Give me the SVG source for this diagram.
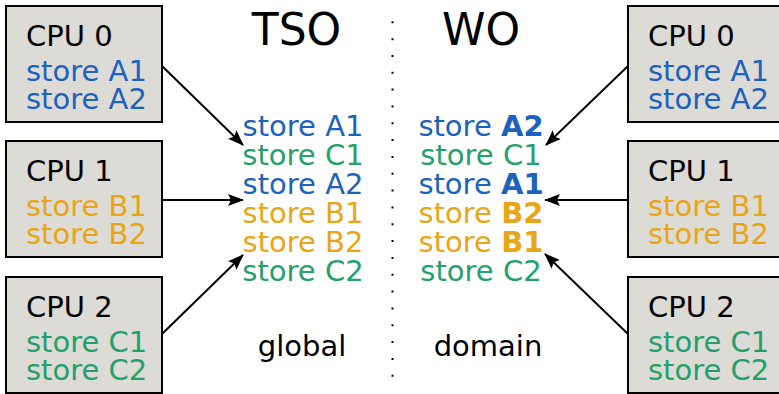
<svg xmlns="http://www.w3.org/2000/svg" width="779" height="394" viewBox="0 0 779 394">
<style>
text{font-family:"DejaVu Sans","Verdana",sans-serif;font-size:29px}
.box{fill:#dcdbd6;stroke:#000;stroke-width:2}
.k{fill:#000}
.b{fill:#1c62be}
.g{fill:#24a06c}
.o{fill:#e8a616}
.bold{font-weight:bold}
.m{text-anchor:middle}
.t{font-size:44px}
.conn line{stroke:#000;stroke-width:2}
</style>
<defs>
<marker id="ah" viewBox="0 0 16 12" refX="15" refY="6" markerWidth="16" markerHeight="12" markerUnits="userSpaceOnUse" orient="auto">
<path d="M0,0 L16,6 L0,12 L3,6 Z" fill="#000"/>
</marker>
</defs>
<rect width="779" height="394" fill="#fff"/>
<line x1="392.5" y1="21.3" x2="392.5" y2="380" stroke="#000" stroke-width="2" stroke-dasharray="2 14.83"/>
<text class="t m k" x="296.5" y="45">TSO</text>
<text class="t m k" x="481" y="45">WO</text>
<g id="cpu0L"><rect class="box" x="6" y="6" width="156" height="116"/>
<text class="k" x="26" y="46">CPU 0</text><text class="b" x="26" y="81">store A1</text><text class="b" x="26" y="109">store A2</text></g>
<g id="cpu1L"><rect class="box" x="6" y="141" width="156" height="116"/>
<text class="k" x="26" y="181">CPU 1</text><text class="o" x="26" y="216">store B1</text><text class="o" x="26" y="244">store B2</text></g>
<g id="cpu2L"><rect class="box" x="6" y="277" width="156" height="116"/>
<text class="k" x="26" y="317">CPU 2</text><text class="g" x="26" y="352">store C1</text><text class="g" x="26" y="380">store C2</text></g>
<g id="cpu0R"><rect class="box" x="628" y="6" width="156" height="116"/>
<text class="k" x="648" y="46">CPU 0</text><text class="b" x="648" y="81">store A1</text><text class="b" x="648" y="109">store A2</text></g>
<g id="cpu1R"><rect class="box" x="628" y="141" width="156" height="116"/>
<text class="k" x="648" y="181">CPU 1</text><text class="o" x="648" y="216">store B1</text><text class="o" x="648" y="244">store B2</text></g>
<g id="cpu2R"><rect class="box" x="628" y="277" width="156" height="116"/>
<text class="k" x="648" y="317">CPU 2</text><text class="g" x="648" y="352">store C1</text><text class="g" x="648" y="380">store C2</text></g>
<g id="tso">
<text class="b m" x="303" y="136">store A1</text>
<text class="g m" x="303" y="165">store C1</text>
<text class="b m" x="303" y="194">store A2</text>
<text class="o m" x="303" y="223">store B1</text>
<text class="o m" x="303" y="252">store B2</text>
<text class="g m" x="303" y="281">store C2</text>
<text class="k m" x="302" y="356">global</text>
</g>
<g id="wo">
<text class="b m" x="481" y="136">store <tspan class="bold">A2</tspan></text>
<text class="g m" x="481" y="165">store C1</text>
<text class="b m" x="481" y="194">store <tspan class="bold">A1</tspan></text>
<text class="o m" x="481" y="223">store <tspan class="bold">B2</tspan></text>
<text class="o m" x="481" y="252">store <tspan class="bold">B1</tspan></text>
<text class="g m" x="481" y="281">store C2</text>
<text class="k m" x="488" y="356">domain</text>
</g>
<g class="conn" id="connectors">
<line x1="162" y1="66" x2="243" y2="145" marker-end="url(#ah)"/>
<line x1="162" y1="200" x2="243" y2="200" marker-end="url(#ah)"/>
<line x1="162" y1="334" x2="243" y2="255" marker-end="url(#ah)"/>
<line x1="628" y1="66" x2="546" y2="145" marker-end="url(#ah)"/>
<line x1="628" y1="200" x2="545" y2="200" marker-end="url(#ah)"/>
<line x1="628" y1="334" x2="545" y2="254" marker-end="url(#ah)"/>
</g>
</svg>
